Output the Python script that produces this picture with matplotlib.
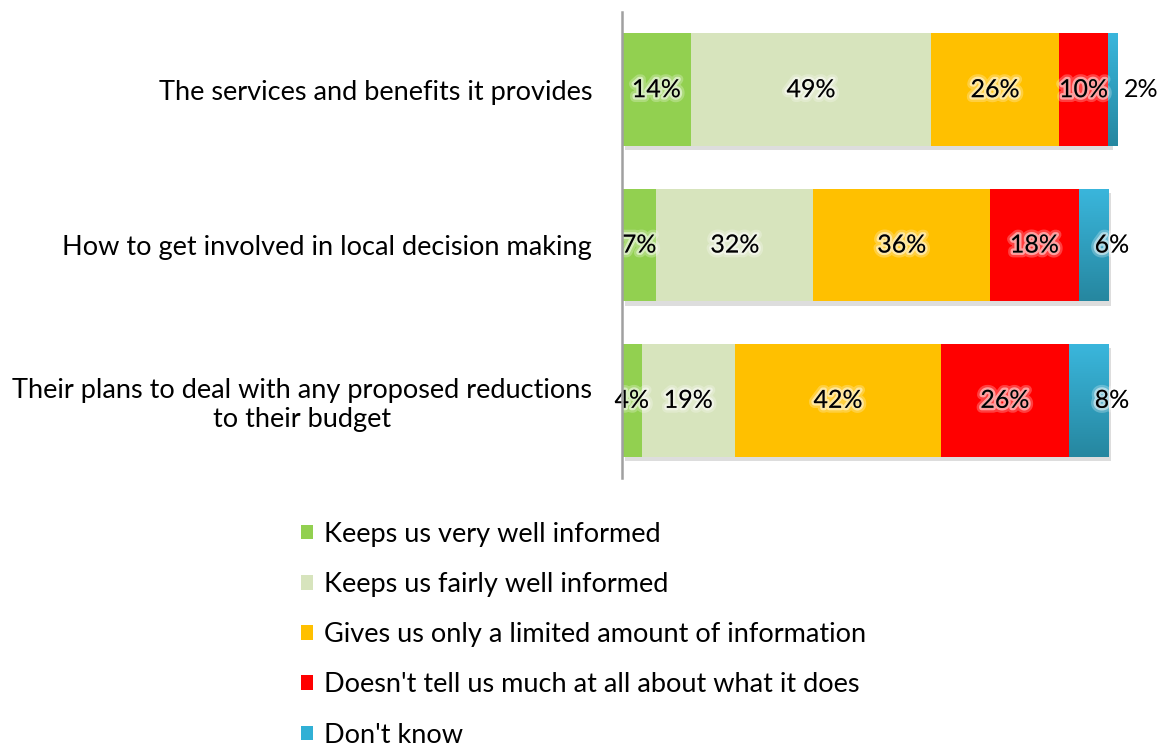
import matplotlib

matplotlib.use("Agg")
import matplotlib.pyplot as plt
import matplotlib.patheffects as pe
import numpy as np
from matplotlib.colors import LinearSegmentedColormap
from matplotlib.patches import Patch

plt.rcParams["font.family"] = ["Lato", "DejaVu Sans"]

# Survey answers, one row per question, one column per answer
questions = [
    "The services and benefits it provides",
    "How to get involved in local decision making",
    "Their plans to deal with any proposed reductions\nto their budget",
]
answers = [
    "Keeps us very well informed",
    "Keeps us fairly well informed",
    "Gives us only a limited amount of information",
    "Doesn't tell us much at all about what it does",
    "Don't know",
]
very_well = [14, 7, 4]
fairly_well = [49, 32, 19]
limited = [26, 36, 42]
not_much = [10, 18, 26]
dont_know = [2, 6, 8]

series = [very_well, fairly_well, limited, not_much, dont_know]
colors = ["#92D050", "#D7E4BD", "#FFC000", "#FF0000", "#31B0D5"]

FONT_VAL = 18
FONT_TXT = 19.5

fig = plt.figure(figsize=(11.58, 7.46), dpi=100)
W, H = 1158, 746
ax = fig.add_axes([622 / W, (H - 478) / H, 491 / W, 466 / H])

y = np.arange(len(questions))
left = np.zeros(len(questions))
shadow = [pe.SimplePatchShadow(offset=(2, -3), shadow_rgbFace="#909090", alpha=0.3), pe.Normal()]
glow = [pe.withStroke(linewidth=7, foreground="white", alpha=0.25),
        pe.withStroke(linewidth=3.5, foreground="white", alpha=0.5)]

blue_cmap = LinearSegmentedColormap.from_list("blue_grad", ["#3AB6DC", "#2687A0"])

for k, (vals, col) in enumerate(zip(series, colors)):
    vals = np.array(vals, dtype=float)
    bars = ax.barh(y, vals, left=left, height=0.727, color=col, edgecolor="none", zorder=2)
    for b in bars:
        b.set_path_effects(shadow)
    if k == len(series) - 1:
        # vertical gradient on the "Don't know" segments, light at the top
        grad = np.linspace(0, 1, 64).reshape(-1, 1)
        for b in bars:
            x0, y0 = b.get_x(), b.get_y()
            im = ax.imshow(grad, cmap=blue_cmap, aspect="auto", zorder=3,
                           extent=[x0, x0 + b.get_width(), y0 + b.get_height(), y0],
                           origin="upper")
            im.set_clip_path(b)
    for i, v in enumerate(vals):
        end = left[i] + v
        if k == len(series) - 1:
            if v < 4:
                ax.text(end + 1.2, y[i], f"{v:.0f}%", ha="left", va="center",
                        fontsize=FONT_VAL, zorder=5, clip_on=False)
            else:
                ax.text(end + 0.8, y[i], f"{v:.0f}%", ha="center", va="center",
                        fontsize=FONT_VAL, zorder=5, clip_on=False, path_effects=glow)
        else:
            ax.text(left[i] + v / 2, y[i], f"{v:.0f}%", ha="center", va="center",
                    fontsize=FONT_VAL, zorder=5, path_effects=glow)
    left += vals

ax.set_xlim(0, 100)
ax.set_ylim(len(questions) - 0.5, -0.5)
ax.set_yticks(y)
ax.set_yticklabels(questions, fontsize=FONT_TXT, multialignment="center")
ax.tick_params(axis="y", length=0, pad=21.5)
ax.set_xticks([])
for s in ["top", "right", "bottom"]:
    ax.spines[s].set_visible(False)
ax.spines["left"].set_color("#A0A0A0")
ax.spines["left"].set_linewidth(1.8)
ax.spines["left"].set_zorder(6)

handles = [Patch(facecolor=c, edgecolor="none") for c in colors]
fig.legend(handles, answers, loc="upper left", bbox_to_anchor=(290 / W, (H - 511) / H),
           frameon=False, fontsize=FONT_TXT, handlelength=0.45, handleheight=0.45,
           handletextpad=0.4, labelspacing=0.93, borderaxespad=0)

fig.savefig("out.png", dpi=100)
